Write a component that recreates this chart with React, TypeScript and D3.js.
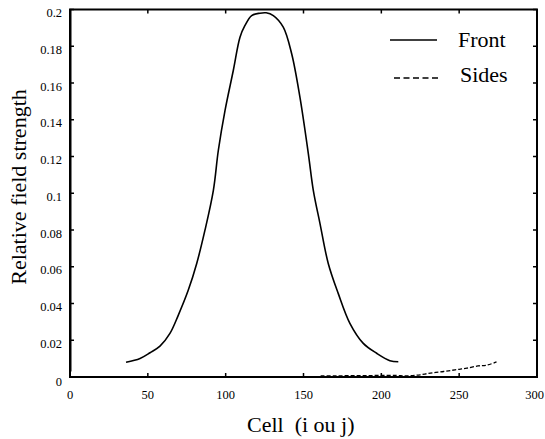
import React from "react";
import * as d3 from "d3";

const frontX = [36, 45, 51.4, 57.8, 64.2, 69.6, 76, 81.4, 86.7, 92.1, 95.3, 99.6, 104.9, 109.2, 112.4, 116.7, 122, 126, 130.6, 137, 142.4, 147.7, 153.1, 156.3, 160.6, 165.9, 172.3, 179.8, 188.4, 197, 205.5, 210.9];
const frontY = [0.008, 0.0101, 0.0132, 0.0168, 0.0237, 0.0337, 0.0473, 0.0618, 0.0799, 0.1016, 0.1234, 0.1451, 0.1668, 0.1849, 0.1913, 0.1967, 0.198, 0.1982, 0.1967, 0.1904, 0.1759, 0.1523, 0.1216, 0.1016, 0.0835, 0.0618, 0.0455, 0.0292, 0.0183, 0.0129, 0.0089, 0.0083];
const sidesX = [161, 170, 180, 190, 200, 210, 215, 220, 225, 230, 235, 240, 245, 250, 255, 262, 268, 274];
const sidesY = [0.0006, 0.0006, 0.0007, 0.0007, 0.0009, 0.0008, 0.0006, 0.0008, 0.0012, 0.0019, 0.0025, 0.003, 0.0036, 0.0042, 0.0048, 0.006, 0.0065, 0.0082];
const xTicks = [0, 50, 100, 150, 200, 250, 300];
const yTicks = [0, 0.02, 0.04, 0.06, 0.08, 0.1, 0.12, 0.14, 0.16, 0.18, 0.2];
const seriesNames = ["Front", "Sides"];

const W = 545, H = 439;
const FONT = "Liberation Serif";

export default function App() {
  const x = d3.scaleLinear().domain([0, 300]).range([70, 537]);
  const y = d3.scaleLinear().domain([0, 0.2]).range([377, 9.5]);
  const line = d3.line<[number, number]>().x((d) => x(d[0])).y((d) => y(d[1])).curve(d3.curveCatmullRom);
  const front = frontX.map((v, i) => [v, frontY[i]] as [number, number]);
  const sides = sidesX.map((v, i) => [v, sidesY[i]] as [number, number]);
  const tl = 4;
  const tickFs = 12.5;
  return (
    <svg width={W} height={H} style={{ position: "absolute", left: 0, top: 0, display: "block", fontFamily: FONT }}>
      <rect width={W} height={H} fill="white" />
      <rect x={x(0)} y={y(0.2)} width={x(300) - x(0)} height={y(0) - y(0.2)} fill="none" stroke="black" strokeWidth={2} />
      <line x1={x(0) + 1} x2={x(0) + 1} y1={y(0.2)} y2={y(0.003)} stroke="black" strokeWidth={1} />
      {xTicks.map((t, i) => {
        const last = i === xTicks.length - 1;
        return (
          <g key={"x" + t}>
            <line x1={x(t)} x2={x(t)} y1={y(0)} y2={y(0) - tl} stroke="black" strokeWidth={1.5} />
            <line x1={x(t)} x2={x(t)} y1={y(0.2)} y2={y(0.2) + tl} stroke="black" strokeWidth={1.5} />
            <text x={last ? 544 : x(t)} y={399} textAnchor={last ? "end" : "middle"} fontSize={tickFs}>{String(t)}</text>
          </g>
        );
      })}
      {yTicks.map((t) => (
        <g key={"y" + t}>
          <line x1={x(0)} x2={x(0) + tl} y1={y(t)} y2={y(t)} stroke="black" strokeWidth={1.5} />
          <line x1={x(300)} x2={x(300) - tl} y1={y(t)} y2={y(t)} stroke="black" strokeWidth={1.5} />
          <text x={62} y={t === 0 ? y(t) + 9 : y(t) + 7.5} textAnchor="end" fontSize={tickFs}>{String(t)}</text>
        </g>
      ))}
      <path d={line(front) || ""} fill="none" stroke="black" strokeWidth={1.6} />
      <path d={line(sides) || ""} fill="none" stroke="black" strokeWidth={1.3} strokeDasharray="4,2" />
      <line x1={390} x2={437} y1={40} y2={40} stroke="black" strokeWidth={1.3} />
      <text x={458} y={47} fontSize={22}>{seriesNames[0]}</text>
      <line x1={394} x2={440} y1={78} y2={78} stroke="black" strokeWidth={1.3} strokeDasharray="6,3.5" />
      <text x={460} y={82} fontSize={22}>{seriesNames[1]}</text>
      <text x={247} y={432} fontSize={22} style={{ whiteSpace: "pre" }}>{"Cell  (i ou j)"}</text>
      <text transform="translate(26,187) rotate(-90)" textAnchor="middle" fontSize={22}>Relative field strength</text>
    </svg>
  );
}
